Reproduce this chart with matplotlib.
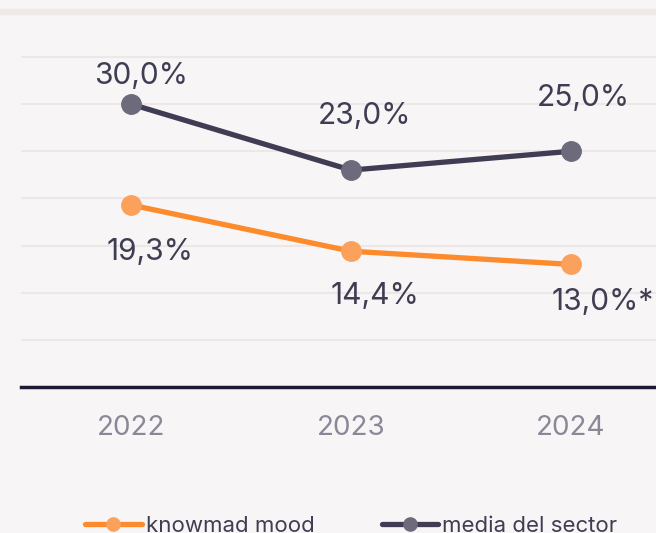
import matplotlib
matplotlib.use("Agg")
import matplotlib.pyplot as plt
from matplotlib.lines import Line2D

years = ["2022", "2023", "2024"]
knowmad = [19.3, 14.4, 13.0]
sector = [30.0, 23.0, 25.0]
knowmad_labels = ["19,3%", "14,4%", "13,0%*"]
sector_labels = ["30,0%", "23,0%", "25,0%"]
legend_labels = ["knowmad mood", "media del sector"]

plt.rcParams['font.family'] = ['Inter', 'DejaVu Sans']
BG = "#f7f5f5"
ORANGE = "#fd8a2b"
ORANGE_M = "#fba15c"
DARK = "#403c53"
DARK_M = "#6d6a7b"
TEXT = "#3f3d52"

W, H = 656, 533
fig = plt.figure(figsize=(W/100, H/100), dpi=100, facecolor=BG)
ax = fig.add_axes([21/W, 146/H, 660/W, 38*9.43/H])
ax.set_facecolor(BG)
x = list(range(len(years)))
ax.set_xlim(-0.5, 2.5)
ax.set_ylim(0, 38)
for v in [5, 10, 15, 20, 25, 30, 35]:
    ax.axhline(v, color="#efe7e7", lw=1.5, zorder=0)
ax.axhline(0, color="#1d1932", lw=2.5, zorder=1, clip_on=False)
ax.plot(x, sector, color=DARK, lw=3.8, marker="o", ms=14, mfc=DARK_M, mec=DARK_M, zorder=3, clip_on=False)
ax.plot(x, knowmad, color=ORANGE, lw=3.8, marker="o", ms=14, mfc=ORANGE_M, mec=ORANGE_M, zorder=3, clip_on=False)

s_off = [(7, 20), (10, 39), (9, 38)]
k_off = [(14, -34), (17, -32), (23, -27)]
for i in x:
    ax.annotate(sector_labels[i], (i, sector[i]), xytext=s_off[i], textcoords="offset points",
                ha="center", va="center", fontsize=21.5, color=TEXT)
    ax.annotate(knowmad_labels[i], (i, knowmad[i]), xytext=k_off[i], textcoords="offset points",
                ha="center", va="center", fontsize=21.5, color=TEXT, annotation_clip=False)

ax.set_xticks(x)
ax.set_xticklabels(years, fontsize=20, color="#8a8797")
ax.tick_params(axis="x", length=0, pad=20)
ax.set_yticks([])
for s in ax.spines.values():
    s.set_visible(False)

fig.add_artist(Line2D([0, 1], [1 - 12/H, 1 - 12/H], transform=fig.transFigure, color="#efe9e5", lw=4.5))

# legend drawn manually
leg_y = 1 - 524/H
items = [(85, 142, 113, 146, ORANGE, ORANGE_M), (382, 438, 410, 442, DARK, DARK_M)]
for (x0, x1, xm, xt, lc, mc), lab in zip(items, legend_labels):
    fig.add_artist(Line2D([x0/W, x1/W], [leg_y, leg_y], transform=fig.transFigure, color=lc,
                          lw=3.8, solid_capstyle="round"))
    fig.add_artist(Line2D([xm/W], [leg_y], transform=fig.transFigure, marker="o", ms=9.5,
                          mfc=mc, mec=mc, lw=0))
    fig.text(xt/W, 1/H, lab, fontsize=16, color=TEXT, ha="left", va="baseline")

fig.savefig("out.png", dpi=100, facecolor=BG)
